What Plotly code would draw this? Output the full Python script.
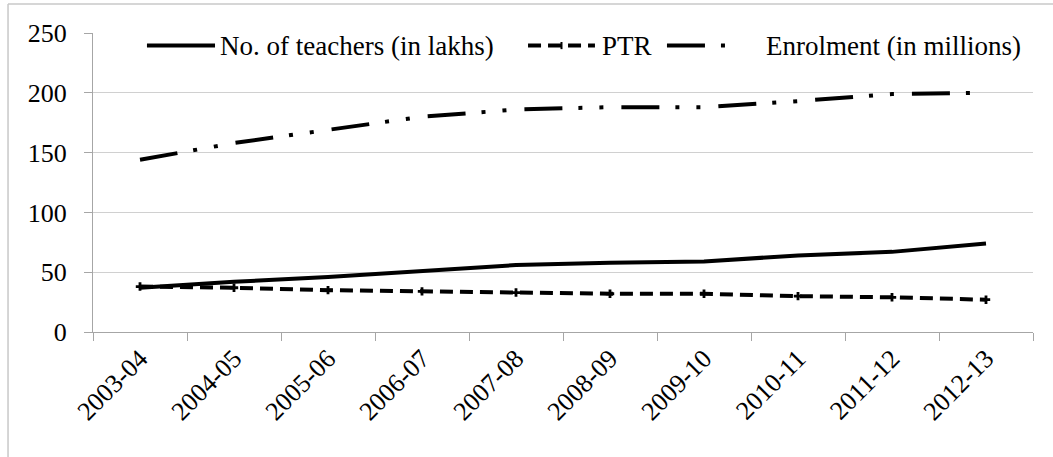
import plotly.graph_objects as go

years = ["2003-04", "2004-05", "2005-06", "2006-07", "2007-08",
         "2008-09", "2009-10", "2010-11", "2011-12", "2012-13"]
teachers = [37, 42, 46, 51, 56, 58, 59, 64, 67, 74]
ptr = [38, 37, 35, 34, 33, 32, 32, 30, 29, 27]
enrolment = [144, 158, 169, 180, 186, 188, 188, 193, 199, 200]
y_ticks = [0, 50, 100, 150, 200, 250]
series_names = ["No. of teachers (in lakhs)", "PTR", "Enrolment (in millions)"]

FONT = "Liberation Serif"
FS = 26
LEG_FS = 27
DASH_PTR = "13px,7px"
DASH_ENR = "38px,16px,4px,17px,4px,18px"

fig = go.Figure()
fig.add_trace(go.Scatter(
    x=years, y=teachers, mode="lines", name=series_names[0],
    line=dict(color="black", width=4)))
fig.add_trace(go.Scatter(
    x=years, y=ptr, mode="lines+markers", name=series_names[1],
    line=dict(color="black", width=4, dash=DASH_PTR),
    marker=dict(symbol="cross", size=7, color="black")))
fig.add_trace(go.Scatter(
    x=years, y=enrolment, mode="lines", name=series_names[2],
    line=dict(color="black", width=4, dash=DASH_ENR)))

# outer chart frame (partially cropped in the reference)
fig.add_shape(type="line", xref="paper", yref="paper",
              x0=-0.0904, x1=-0.0904, y0=-0.42, y1=1.097,
              line=dict(color="#c8c8c8", width=1.5))
fig.add_shape(type="line", xref="paper", yref="paper",
              x0=-0.0904, x1=1.03, y0=1.097, y1=1.097,
              line=dict(color="#c8c8c8", width=1.5))

# legend drawn inside the plot area, Excel style (long line samples)
LY = 0.958
legend_items = [
    # (sample x0, sample x1, text x, dash, marker)
    (0.0574, 0.1298, 0.1330, None, False),
    (0.4628, 0.5340, 0.5390, DASH_PTR, True),
    (0.6106, 0.6883, 0.7138, DASH_ENR, False),
]
for name, (sx0, sx1, tx, dash, mk) in zip(series_names, legend_items):
    ln = dict(color="black", width=4)
    if dash:
        ln["dash"] = dash
    fig.add_shape(type="line", xref="paper", yref="paper",
                  x0=sx0, x1=sx1, y0=LY, y1=LY, line=ln)
    if mk:
        xm = (sx0 + sx1) / 2
        fig.add_shape(type="line", xref="paper", yref="paper",
                      x0=xm, x1=xm, y0=LY - 0.012, y1=LY + 0.012,
                      line=dict(color="black", width=2))
    fig.add_annotation(text=name, xref="paper", yref="paper", x=tx, y=LY,
                       xanchor="left", yanchor="middle", showarrow=False,
                       font=dict(family=FONT, size=LEG_FS, color="black"))

fig.update_layout(
    width=1053, height=457,
    margin=dict(l=93, r=20, t=33, b=125),
    paper_bgcolor="white", plot_bgcolor="white",
    font=dict(family=FONT, size=FS, color="black"),
    showlegend=False,
    xaxis=dict(type="category", tickangle=-45, tickson="boundaries",
               ticks="outside", ticklen=8, tickcolor="#a6a6a6",
               showline=True, linecolor="#a6a6a6", linewidth=1,
               showgrid=False, tickfont=dict(family=FONT, size=FS),
               ticklabelstandoff=0, range=[-0.5, 9.5]),
    yaxis=dict(range=[0, 250], tickvals=y_ticks, ticks="outside", ticklen=8,
               tickcolor="#a6a6a6", showline=True, linecolor="#a6a6a6",
               gridcolor="#d0d0d0", gridwidth=1, zeroline=False,
               ticklabelstandoff=12, tickfont=dict(family=FONT, size=FS)),
)

fig.write_html("out.html", config={"displayModeBar": False},
               post_script="document.body.style.margin='0px';")
